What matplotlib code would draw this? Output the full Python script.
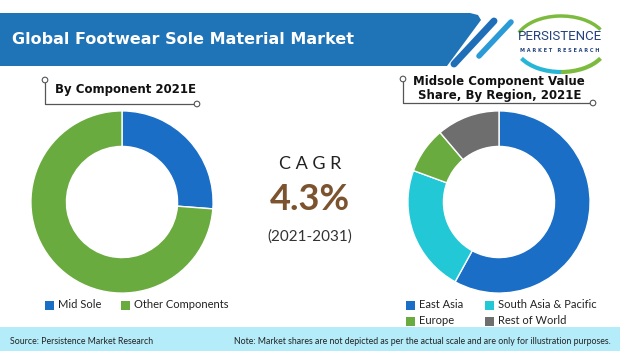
import numpy as np
import matplotlib
matplotlib.use('Agg')
import matplotlib.pyplot as plt
from matplotlib.patches import Polygon, Rectangle, Circle, Arc

# data (shares in %)
component_labels = ['Mid Sole', 'Other Components']
component_share = [26.2, 73.8]
component_colors = ['#1a6ec6', '#6aab3f']

region_labels = ['East Asia', 'South Asia & Pacific', 'Europe', 'Rest of World']
region_share = [58.0, 22.6, 8.2, 11.2]
region_colors = ['#1a6ec6', '#22c8d6', '#6aab3f', '#6e6e6e']

cagr_value = '4.3%'
cagr_period = '(2021-2031)'

W, H = 620, 351
fig = plt.figure(figsize=(W / 100, H / 100), dpi=100)
fig.patch.set_facecolor('white')

# background axes in pixel coordinates for the decorations
bg = fig.add_axes([0, 0, 1, 1])
bg.set_xlim(0, W)
bg.set_ylim(H, 0)
bg.axis('off')

# header banner
bg.add_patch(Polygon([(0, 13), (470, 13), (478, 15), (481, 20), (447, 66), (0, 66)],
                     closed=True, color='#1f73b7', lw=0))
bg.plot([494, 454], [21, 64], color='#1f6fb8', lw=5, solid_capstyle='round')
bg.plot([511, 479], [22, 56], color='#2b9bd8', lw=4, solid_capstyle='round')
bg.text(12, 39, 'Global Footwear Sole Material Market', color='white', fontsize=11.5,
        fontweight='bold', va='center', ha='left', family='DejaVu Sans')

# logo (y axis is flipped, so angles run clockwise on screen)
bg.add_patch(Arc((561, 44), 92, 56, theta1=195, theta2=340, color='#7dbb3f', lw=2.5))
bg.add_patch(Arc((561, 44), 92, 56, theta1=90, theta2=160, color='#27b6d6', lw=3))
bg.add_patch(Arc((561, 44), 92, 56, theta1=20, theta2=90, color='#7dbb3f', lw=3))
bg.text(560, 36, 'PERSISTENCE', color='#23437a', fontsize=9.5, ha='center', va='center',
        family='Roboto')
bg.text(560, 51, 'M A R K E T   R E S E A R C H', color='#23437a', fontsize=3.6,
        ha='center', va='center', fontweight='bold')

# bracket decorations
def bracket(x0, y0, x1, y1):
    bg.plot([x0, x0, x1], [y0, y1, y1], color='#555555', lw=0.9, zorder=2)
    for (px, py) in [(x0, y0), (x1 + 3, y1)]:
        bg.add_patch(Circle((px, py), 2.8, facecolor='white', edgecolor='#555555', lw=0.8, zorder=3))

bracket(45, 80, 194, 104)
bg.text(55, 90, 'By Component 2021E', fontsize=8.5, fontweight='bold', va='center', ha='left',
        color='#111111')

bracket(403, 79, 590, 103)
bg.text(499, 81, 'Midsole Component Value', fontsize=8.5, fontweight='bold', va='center',
        ha='center', color='#111111')
bg.text(500, 96, 'Share, By Region, 2021E', fontsize=8.5, fontweight='bold', va='center',
        ha='center', color='#111111')

# CAGR block
bg.text(310, 164, 'C A G R', fontsize=13, ha='center', va='center', color='#222222',
        family='Lato')
bg.text(310, 199, cagr_value, fontsize=26, ha='center', va='center', color='#7b532f',
        family='Lato', fontweight='bold')
bg.text(310, 237, cagr_period, fontsize=11, ha='center', va='center', color='#333333',
        family='Lato')

# donuts
def donut(cx, cy, r, values, colors):
    ax = fig.add_axes([(cx - r) / W, (H - cy - r) / H, 2 * r / W, 2 * r / H])
    ax.pie(values, colors=colors, startangle=90, counterclock=False, radius=1,
           wedgeprops=dict(width=0.39, edgecolor='white', linewidth=1))
    ax.set_xlim(-1.01, 1.01)
    ax.set_ylim(-1.01, 1.01)
    ax.set_aspect('equal')
    ax.axis('off')
    return ax

donut(122, 202, 92, component_share, component_colors)
donut(499, 202, 92, region_share, region_colors)

# legends
def legend_item(x, y, label, color):
    bg.add_patch(Rectangle((x, y - 4.5), 9, 9, color=color, lw=0))
    bg.text(x + 13, y, label, fontsize=8, va='center', ha='left', color='#222222', family='Lato')

for (x, label, color) in zip([45, 121], component_labels, component_colors):
    legend_item(x, 305, label, color)

pos = [(406, 305), (485, 305), (406, 321), (485, 321)]
for (p, label, color) in zip(pos, region_labels, region_colors):
    legend_item(p[0], p[1], label, color)

# footer
bg.add_patch(Rectangle((0, 327), W, H - 327, color='#b5ecf9', lw=0))
bg.text(10, 341, 'Source: Persistence Market Research', fontsize=6.3, va='center', ha='left',
        color='#222222', family='Lato')
bg.text(611, 341, 'Note: Market shares are not depicted as per the actual scale and are only for illustration purposes.',
        fontsize=6.3, va='center', ha='right', color='#222222', family='Lato')

fig.savefig('out.png', dpi=100, facecolor='white')
